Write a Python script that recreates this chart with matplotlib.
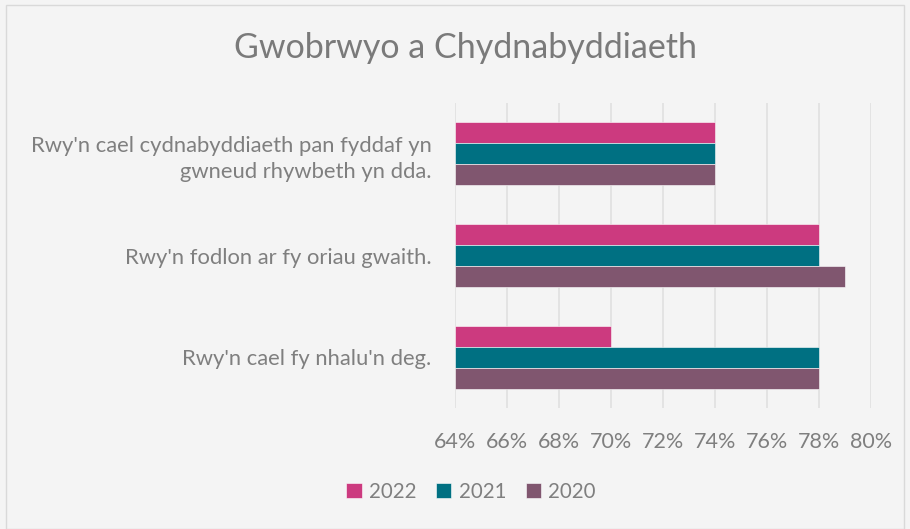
import matplotlib
matplotlib.use("Agg")
import matplotlib.pyplot as plt
from matplotlib.patches import Rectangle
import numpy as np

categories = ["Rwy'n cael cydnabyddiaeth pan fyddaf yn\ngwneud rhywbeth yn dda.",
              "Rwy'n fodlon ar fy oriau gwaith.",
              "Rwy'n cael fy nhalu'n deg."]
series_names = ["2022", "2021", "2020"]
v2022 = [74, 78, 70]
v2021 = [74, 78, 78]
v2020 = [74, 79, 78]
colors = ["#CC3A7F", "#007082", "#80566F"]
xticks = [64, 66, 68, 70, 72, 74, 76, 78, 80]

plt.rcParams['font.family'] = ['Lato', 'DejaVu Sans']
W, H = 910, 529
fig = plt.figure(figsize=(W/100, H/100), dpi=100, facecolor="#F4F4F4")
fig.patches.append(Rectangle((6/W, 0), (W-12)/W, (H-5)/H, transform=fig.transFigure,
                             fill=False, edgecolor="#D9D9D9", linewidth=1))

left, right = 455/W, 871/W
top, bottom = 1 - 103/H, 1 - 408/H
ax = fig.add_axes([left, bottom, right-left, top-bottom])
ax.set_facecolor("#F4F4F4")

y = np.arange(len(categories))
h = 0.207
vals = [v2022, v2021, v2020]
for i, (name, v, c) in enumerate(zip(series_names, vals, colors)):
    base = 64
    ax.barh(y + (i - 1) * h, np.array(v) - base, left=base, height=h, color=c,
            label=name, edgecolor="white", linewidth=0.4, zorder=3)

ax.set_xlim(64, 80)
ax.set_ylim(2.5, -0.5)
ax.set_xticks(xticks)
ax.set_xticklabels([f"{t}%" for t in xticks], fontsize=15.5, color="#7F7F7F")
ax.set_yticks(y)
ax.set_yticklabels(categories, fontsize=15.8, color="#7F7F7F", linespacing=1.38)
ax.tick_params(axis='both', length=0)
ax.tick_params(axis='x', pad=17)
ax.tick_params(axis='y', pad=17)
ax.grid(axis='x', color="#E0E0E0", linewidth=1.2, zorder=0)
for s in ax.spines.values():
    s.set_visible(False)

fig.text(466/W, 1 - 48/H, "Gwobrwyo a Chydnabyddiaeth", ha="center", va="center",
         fontsize=24.5, color="#7A7A7A")

leg = fig.legend(loc="center", bbox_to_anchor=(471/W, 1 - 492/H), ncol=3, frameon=False,
                 fontsize=14.8, handlelength=0.75, handleheight=0.75, handletextpad=0.35,
                 columnspacing=0.95)
for t in leg.get_texts():
    t.set_color("#7F7F7F")

fig.savefig("out.png", dpi=100, facecolor=fig.get_facecolor())
